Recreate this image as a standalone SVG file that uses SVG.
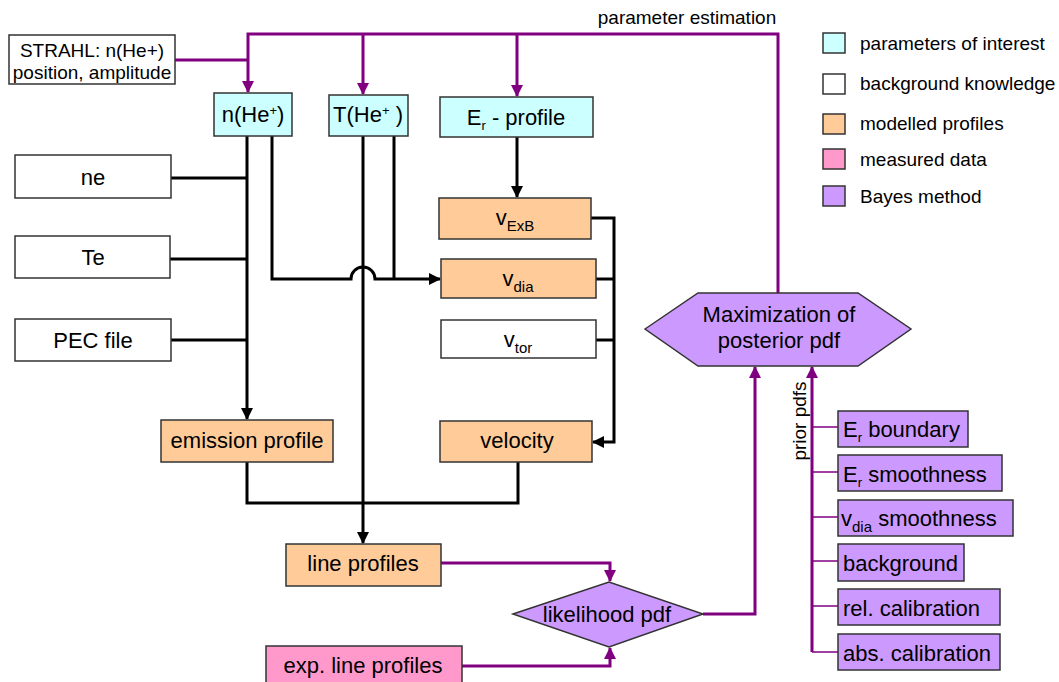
<svg xmlns="http://www.w3.org/2000/svg" width="1059" height="682" viewBox="0 0 1059 682">
<style>
text{font-family:"Liberation Sans",Arial,Helvetica,sans-serif;fill:#000}
.t22{font-size:22px}
.t19{font-size:19px}
.box{stroke:#333;stroke-width:1.5}
.cy{fill:#CCFFFF}.wh{fill:#FFFFFF}.or{fill:#FFCC99}.pk{fill:#FF99CC}.pu{fill:#CC99FF}
.bl{fill:none;stroke:#000;stroke-width:3}
.pl{fill:none;stroke:#800080;stroke-width:3}
.plt{fill:none;stroke:#800080;stroke-width:1.5}
</style>
<defs>
<marker id="ab" markerUnits="userSpaceOnUse" markerWidth="12" markerHeight="12" refX="11" refY="6" orient="auto">
<path d="M0,0 L12,6 L0,12 z" fill="#000"/>
</marker>
<marker id="ap" markerUnits="userSpaceOnUse" markerWidth="12" markerHeight="12" refX="11" refY="6" orient="auto">
<path d="M0,0 L12,6 L0,12 z" fill="#800080"/>
</marker>
</defs>
<rect width="1059" height="682" fill="#fff"/>

<g id="connectors">
<!-- purple parameter estimation loop -->
<polyline class="pl" points="778,293 778,34 248,34 248,92" marker-end="url(#ap)"/>
<polyline class="pl" points="175,60 248,60"/>
<line class="pl" x1="363" y1="34" x2="363" y2="94" marker-end="url(#ap)"/>
<line class="pl" x1="517" y1="34" x2="517" y2="96" marker-end="url(#ap)"/>
<!-- background inputs -->
<line class="bl" x1="171" y1="178" x2="247" y2="178"/>
<line class="bl" x1="170" y1="259" x2="247" y2="259"/>
<line class="bl" x1="171" y1="340" x2="247" y2="340"/>
<line class="bl" x1="247" y1="136" x2="247" y2="419" marker-end="url(#ab)"/>
<!-- to v_dia with hop -->
<path class="bl" d="M272,136 L272,279 L351,279 A12,12 0 0 1 375,279 L440,279" marker-end="url(#ab)"/>
<line class="bl" x1="394" y1="136" x2="394" y2="279"/>
<line class="bl" x1="363" y1="136" x2="363" y2="543" marker-end="url(#ab)"/>
<!-- Er to vExB -->
<line class="bl" x1="517" y1="137" x2="517" y2="197" marker-end="url(#ab)"/>
<!-- velocity bus -->
<polyline class="bl" points="591,218 614,218 614,442 593,442" marker-end="url(#ab)"/>
<line class="bl" x1="596" y1="279" x2="614" y2="279"/>
<line class="bl" x1="596" y1="340" x2="614" y2="340"/>
<!-- emission/velocity merge -->
<polyline class="bl" points="247,462 247,503 518,503 518,462"/>
<!-- to likelihood -->
<polyline class="pl" points="441,563 610,563 610,581" marker-end="url(#ap)"/>
<polyline class="pl" points="462,666 610,666 610,648" marker-end="url(#ap)"/>
<polyline class="pl" points="703,614 755,614 755,367" marker-end="url(#ap)"/>
<!-- priors -->
<line class="pl" x1="812" y1="652" x2="812" y2="367" marker-end="url(#ap)"/>
<line class="plt" x1="812" y1="427" x2="838" y2="427"/>
<line class="plt" x1="812" y1="472" x2="838" y2="472"/>
<line class="plt" x1="812" y1="517" x2="838" y2="517"/>
<line class="plt" x1="812" y1="561" x2="838" y2="561"/>
<line class="plt" x1="812" y1="606" x2="838" y2="606"/>
<line class="plt" x1="812" y1="652" x2="838" y2="652"/>
</g>

<text class="t19" x="687" y="24" text-anchor="middle">parameter estimation</text>
<text class="t19" x="800" y="421" text-anchor="middle" transform="rotate(-90 800 421)" dy="6">prior pdfs</text>

<g id="strahl">
<rect class="box wh" x="9" y="35" width="166" height="49"/>
<text class="t19" x="92" y="57" text-anchor="middle">STRAHL: n(He+)</text>
<text class="t19" x="92" y="79" text-anchor="middle">position, amplitude</text>
</g>
<g id="nHe">
<rect class="box cy" x="214" y="93" width="78" height="43"/>
<text class="t22" x="253" y="122" text-anchor="middle">n(He<tspan font-size="13" dy="-7">+</tspan><tspan dy="7">)</tspan></text>
</g>
<g id="THe">
<rect class="box cy" x="329" y="95" width="79" height="41"/>
<text class="t22" x="368" y="122" text-anchor="middle">T(He<tspan font-size="13" dy="-7">+</tspan><tspan dy="7"> )</tspan></text>
</g>
<g id="Er">
<rect class="box cy" x="440" y="97" width="153" height="40"/>
<text class="t22" x="516" y="125" text-anchor="middle">E<tspan font-size="13" dy="5">r</tspan><tspan dy="-5"> - profile</tspan></text>
</g>
<g id="ne">
<rect class="box wh" x="15" y="155" width="156" height="43"/>
<text class="t22" x="93" y="185" text-anchor="middle">ne</text>
</g>
<g id="Te">
<rect class="box wh" x="15" y="236" width="155" height="42"/>
<text class="t22" x="93" y="265" text-anchor="middle">Te</text>
</g>
<g id="PEC">
<rect class="box wh" x="15" y="319" width="156" height="42"/>
<text class="t22" x="93" y="348" text-anchor="middle">PEC file</text>
</g>
<g id="vExB">
<rect class="box or" x="439" y="198" width="152" height="41"/>
<text class="t22" x="515" y="225" text-anchor="middle">v<tspan font-size="15" dy="6">ExB</tspan></text>
</g>
<g id="vdia">
<rect class="box or" x="441" y="259" width="155" height="39"/>
<text class="t22" x="518" y="286" text-anchor="middle">v<tspan font-size="15" dy="6">dia</tspan></text>
</g>
<g id="vtor">
<rect class="box wh" x="441" y="320" width="155" height="38"/>
<text class="t22" x="518" y="347" text-anchor="middle">v<tspan font-size="15" dy="6">tor</tspan></text>
</g>
<g id="emission">
<rect class="box or" x="161" y="420" width="172" height="42"/>
<text class="t22" x="247" y="448" text-anchor="middle">emission profile</text>
</g>
<g id="velocity">
<rect class="box or" x="440" y="421" width="152" height="41"/>
<text class="t22" x="517" y="448" text-anchor="middle">velocity</text>
</g>
<g id="lineprofiles">
<rect class="box or" x="286" y="544" width="155" height="42"/>
<text class="t22" x="363" y="571" text-anchor="middle">line profiles</text>
</g>
<g id="explineprofiles">
<rect class="box pk" x="266" y="646" width="196" height="42"/>
<text class="t22" x="363" y="673" text-anchor="middle">exp. line profiles</text>
</g>
<g id="likelihood">
<polygon class="box pu" points="513,614 609,582 703,614 609,647"/>
<text class="t22" x="607" y="622" text-anchor="middle">likelihood pdf</text>
</g>
<g id="maximization">
<polygon class="box pu" points="645,329 698,293 858,293 911,329 858,366 698,366"/>
<text class="t22" x="779" y="322" text-anchor="middle">Maximization of</text>
<text class="t22" x="779" y="348" text-anchor="middle">posterior pdf</text>
</g>
<g id="prior-Er-boundary">
<rect class="box pu" x="838" y="411" width="130" height="36"/>
<text class="t22" x="843" y="437">E<tspan font-size="13" dy="5">r</tspan><tspan dy="-5"> boundary</tspan></text>
</g>
<g id="prior-Er-smoothness">
<rect class="box pu" x="838" y="455" width="164" height="36"/>
<text class="t22" x="843" y="482">E<tspan font-size="13" dy="5">r</tspan><tspan dy="-5"> smoothness</tspan></text>
</g>
<g id="prior-vdia-smoothness">
<rect class="box pu" x="838" y="500" width="175" height="36"/>
<text class="t22" x="841" y="526">v<tspan font-size="15" dy="6">dia</tspan><tspan dy="-6"> smoothness</tspan></text>
</g>
<g id="prior-background">
<rect class="box pu" x="838" y="544" width="126" height="37"/>
<text class="t22" x="843" y="571">background</text>
</g>
<g id="prior-rel">
<rect class="box pu" x="838" y="589" width="162" height="36"/>
<text class="t22" x="843" y="616">rel. calibration</text>
</g>
<g id="prior-abs">
<rect class="box pu" x="838" y="634" width="162" height="36"/>
<text class="t22" x="843" y="661">abs. calibration</text>
</g>

<g id="legend">
<rect class="box cy" x="823" y="33" width="22" height="20"/>
<text class="t19" x="860" y="50">parameters of interest</text>
<rect class="box wh" x="823" y="74" width="22" height="20"/>
<text class="t19" x="860" y="90">background knowledge</text>
<rect class="box or" x="823" y="114" width="22" height="20"/>
<text class="t19" x="860" y="130">modelled profiles</text>
<rect class="box pk" x="823" y="149" width="22" height="20"/>
<text class="t19" x="860" y="166">measured data</text>
<rect class="box pu" x="823" y="186" width="22" height="20"/>
<text class="t19" x="860" y="203">Bayes method</text>
</g>
</svg>
